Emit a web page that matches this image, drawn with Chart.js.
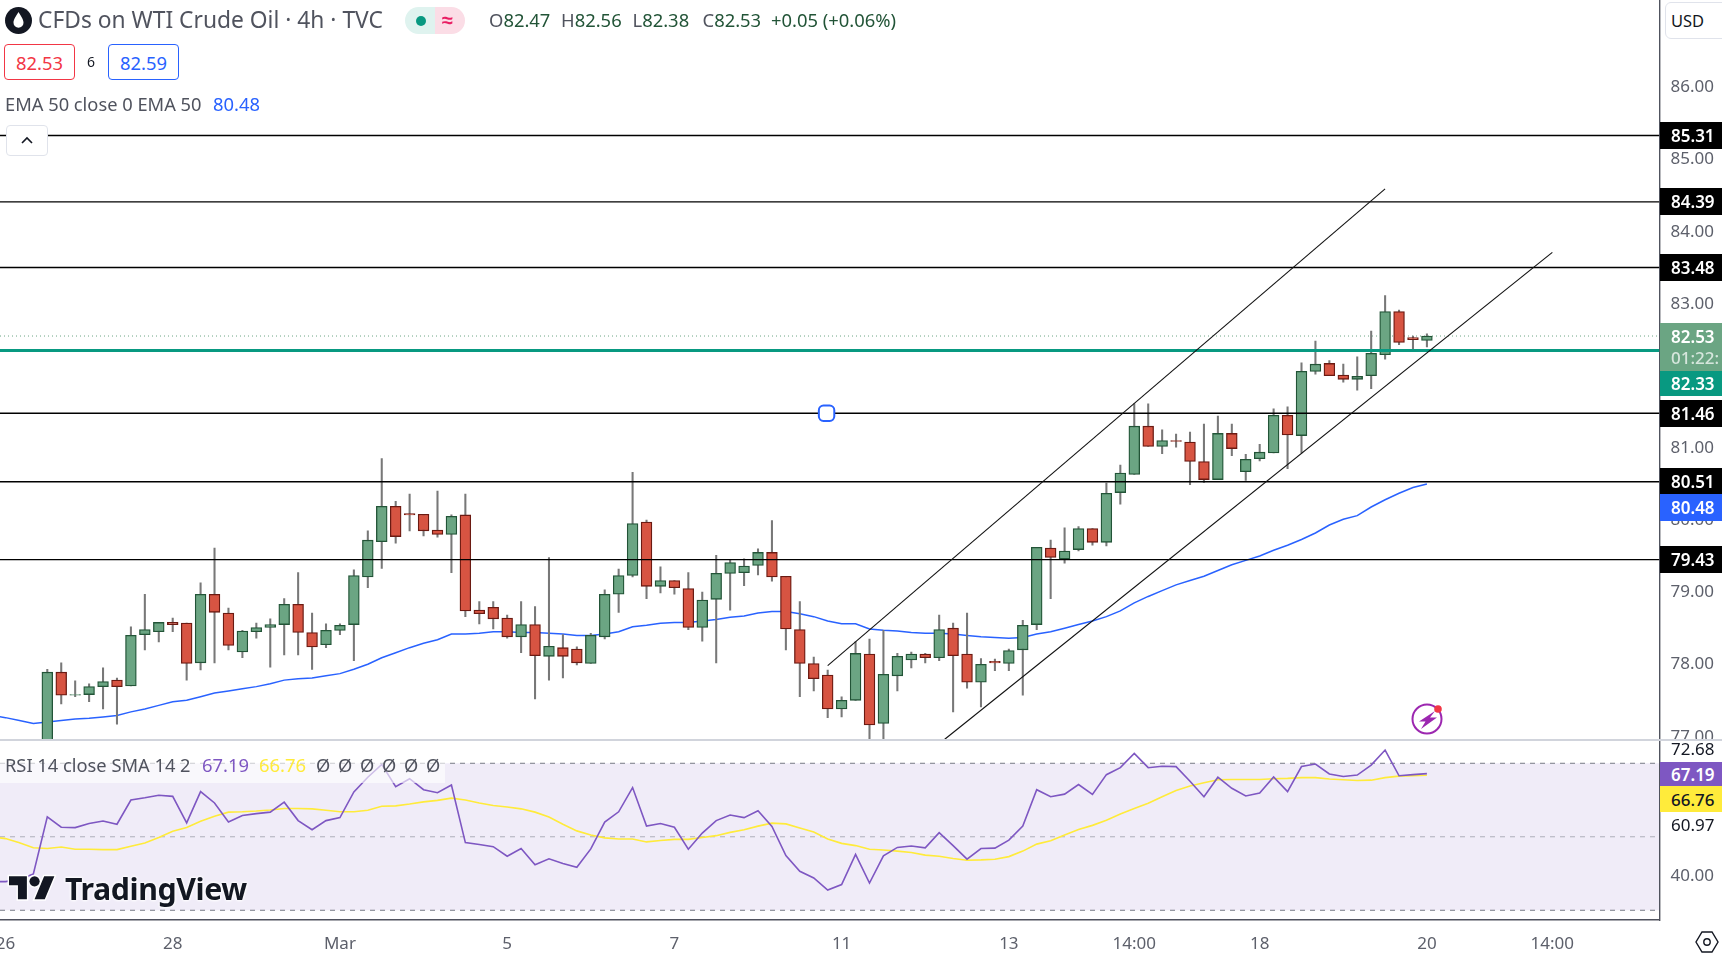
<!DOCTYPE html>
<html><head><meta charset="utf-8"><title>CFDs on WTI Crude Oil</title>
<script src="https://cdn.jsdelivr.net/npm/chart.js@4"></script>
<style>
html,body{margin:0;padding:0;background:#fff;width:1722px;height:955px;overflow:hidden;font-family:"Noto Sans",sans-serif;color:#131722}
canvas{position:absolute;left:0;display:block}
#main{top:0}
#rsi{top:741px}
#sep{position:absolute;left:0;top:739.3px;width:1722px;height:1.6px;background:#d1d4dc;z-index:3}
.t{position:absolute;white-space:nowrap;z-index:5;line-height:1}
.tag{position:absolute;left:1660px;width:62px;overflow:hidden;z-index:6;font-size:17px;font-weight:600;color:#fff;padding-left:11px;box-sizing:border-box;white-space:nowrap;display:flex;align-items:center}
.plain{position:absolute;left:1671px;z-index:6;font-size:17px;line-height:1;white-space:nowrap}
.box{position:absolute;box-sizing:border-box;z-index:5;background:#fff;border-radius:4px;display:flex;align-items:center;justify-content:center}
svg{position:absolute;z-index:6}
</style></head><body>
<canvas id="main" width="1722" height="740"></canvas>
<canvas id="rsi" width="1722" height="214"></canvas>
<div id="sep"></div>
<div id="ui"></div>
<script>
const opens=[76.70,77.87,77.55,77.56,77.67,77.76,77.68,78.39,78.43,78.56,78.55,78.00,78.95,78.69,78.15,78.43,78.49,78.53,78.81,78.42,78.25,78.45,78.53,79.19,79.68,80.17,80.07,80.06,79.84,79.78,80.05,78.73,78.77,78.62,78.36,78.53,78.09,78.21,78.19,77.99,78.36,78.95,79.21,79.95,79.06,79.14,79.03,78.49,78.88,79.24,79.25,79.35,79.53,79.20,78.46,77.99,77.83,77.36,77.48,78.12,77.16,77.82,78.04,78.12,78.07,78.48,78.12,77.73,78.02,77.99,78.18,78.53,79.59,79.44,79.57,79.86,79.67,80.36,80.61,81.28,81.00,81.08,81.06,80.79,80.54,81.18,80.65,80.83,80.91,81.43,81.15,82.04,82.15,81.99,81.93,81.98,82.27,82.87,82.51,82.47];
const closes=[77.87,77.55,77.56,77.67,77.74,77.67,78.38,78.46,78.56,78.53,77.99,78.95,78.70,78.24,78.44,78.49,78.53,78.81,78.42,78.22,78.45,78.52,79.21,79.70,80.17,79.75,80.05,79.83,79.78,80.03,78.72,78.68,78.61,78.36,78.53,78.10,78.23,78.09,78.00,78.38,78.95,79.21,79.93,79.06,79.14,79.04,78.49,78.87,79.24,79.39,79.34,79.53,79.19,78.47,77.99,77.78,77.36,77.48,78.13,77.14,77.84,78.09,78.12,78.07,78.46,78.10,77.73,77.98,78.00,78.17,78.52,79.60,79.46,79.55,79.86,79.67,80.35,80.63,81.28,81.00,81.08,81.07,80.79,80.54,81.18,80.97,80.82,80.92,81.43,81.16,82.04,82.14,81.98,81.93,81.97,82.29,82.87,82.44,82.48,82.53];
const highs=[77.91,78.00,77.75,77.71,77.93,77.79,78.50,78.95,78.56,78.62,78.55,79.11,79.59,78.76,78.45,78.55,78.61,78.89,79.25,78.69,78.54,78.54,79.29,79.83,80.83,80.24,80.34,80.06,80.38,80.05,80.34,78.85,78.85,78.66,78.85,78.78,79.46,78.39,78.22,78.41,79.01,79.30,80.64,79.98,79.33,79.14,79.25,78.98,79.49,79.42,79.44,79.58,79.97,79.20,78.85,78.08,77.90,77.53,78.29,78.33,78.45,78.13,78.15,78.13,78.66,78.55,78.69,78.06,78.05,78.19,78.59,79.60,79.70,79.87,79.89,79.86,80.49,80.74,81.59,81.59,81.23,81.17,81.20,81.31,81.42,81.31,80.89,81.03,81.52,81.55,82.16,82.46,82.19,82.14,82.24,82.60,83.09,82.89,82.53,82.56];
const lows=[76.60,77.43,77.53,77.46,77.36,77.15,77.68,78.18,78.29,78.43,77.76,77.90,78.00,78.18,78.07,78.34,77.94,78.11,78.11,77.91,78.21,78.39,78.03,79.04,79.31,79.66,79.83,79.76,79.74,79.25,78.64,78.54,78.47,78.34,78.14,77.50,77.76,77.79,77.97,77.99,78.33,78.70,79.19,78.89,78.97,78.95,78.46,78.30,78.00,78.73,79.07,79.22,79.13,78.18,77.53,77.61,77.24,77.25,77.48,76.80,76.80,77.61,77.93,78.00,78.03,77.32,77.65,77.39,77.89,77.89,77.55,78.46,78.89,79.38,79.55,79.63,79.62,80.20,80.61,81.00,80.90,80.99,80.47,80.50,80.54,80.87,80.53,80.80,80.91,80.69,80.91,82.00,81.98,81.89,81.78,81.80,82.21,82.41,82.35,82.38];
const emaValues=[77.27,77.24,77.20,77.16,77.18,77.20,77.22,77.23,77.25,77.27,77.32,77.36,77.41,77.46,77.48,77.53,77.58,77.61,77.64,77.67,77.71,77.76,77.78,77.79,77.82,77.85,77.91,77.98,78.07,78.14,78.21,78.27,78.32,78.40,78.40,78.41,78.43,78.43,78.42,78.42,78.41,78.40,78.38,78.38,78.40,78.43,78.50,78.52,78.55,78.56,78.56,78.58,78.60,78.63,78.65,78.69,78.71,78.71,78.68,78.64,78.58,78.54,78.54,78.47,78.45,78.44,78.42,78.41,78.41,78.40,78.38,78.36,78.35,78.34,78.35,78.40,78.43,78.48,78.53,78.58,78.64,78.72,78.83,78.92,79.00,79.08,79.14,79.20,79.28,79.36,79.42,79.48,79.56,79.63,79.71,79.80,79.91,79.99,80.04,80.16,80.26,80.35,80.43,80.48];
const rsiValues=[37.8,37.8,38.4,39.9,55.4,52.6,52.5,53.6,54.3,53.4,60.0,60.6,61.3,61.0,53.8,62.3,59.2,54.0,55.8,56.3,56.7,59.4,54.4,51.9,54.4,55.2,62.2,66.2,69.7,63.6,65.8,62.8,62.0,64.1,48.4,47.9,47.3,44.7,46.8,42.4,44.0,42.7,41.7,46.7,54.0,56.8,63.4,52.9,53.6,52.6,46.6,51.0,54.4,55.9,55.2,57.1,52.8,44.9,40.6,38.8,35.5,37.0,45.2,37.4,44.8,47.1,47.5,47.0,51.1,47.6,43.9,46.8,46.9,49.1,52.9,62.8,60.9,61.6,64.2,61.5,66.9,68.8,72.7,68.8,69.2,69.1,65.1,60.9,66.2,63.2,61.1,61.9,66.3,62.3,69.1,69.8,67.1,66.4,66.8,69.5,73.6,66.6,66.9,67.19];
const rsiMaValues=[50.0,49.5,48.4,47.0,46.8,47.2,46.6,46.6,46.5,46.5,47.4,48.3,49.8,51.5,52.5,54.2,55.6,56.7,56.8,57.0,57.3,57.7,57.7,57.6,57.2,56.8,56.8,57.2,58.3,58.4,58.9,59.5,59.9,60.5,60.0,59.2,58.5,58.1,57.6,56.7,55.4,53.4,51.6,50.5,49.7,49.4,49.4,48.6,49.0,49.3,49.3,49.8,50.3,51.2,51.9,52.9,53.7,53.5,52.4,51.3,49.4,48.2,47.6,46.6,46.4,46.1,45.7,45.0,44.7,44.1,43.6,43.7,43.9,44.6,46.1,48.0,48.9,50.5,52.0,53.1,54.5,56.2,57.7,59.1,60.9,62.6,63.8,64.7,65.5,65.6,65.6,65.6,65.8,65.9,66.1,66.1,65.7,65.5,65.3,65.4,66.1,66.5,66.6,66.76];
const lineStartIndex=-4;
const levels=[85.31,84.39,83.48,81.46,80.51,79.43];
const positionLevel=82.33;
const lastPrice=82.53;
const channelUpperX=[56,96];
const channelUpperY=[77.96,84.57];
const channelLowerX=[64.4,108];
const channelLowerY=[76.94,83.69];
const handleX=[55.92];
const handleY=[81.46];
const priceTicks=[77,78,79,80,81,83,84,85,86];
const rsiBands=[70,50,30];
const rsiTicks=[40];
const timeTickIndex=[-3,9,21,33,45,57,69,78,87,99,108];
const timeTickLabels=['26','28','Mar','5','7','11','13','14:00','18','20','14:00'];

const FONT='"Noto Sans", sans-serif';
Chart.defaults.font.family=FONT;
const XMIN=-3.394, XMAX=115.69;
const AXIS='#50535e', TICK='#5d606b';
const UP='#6ba583',UPB='#225437',DN='#d75442',DNB='#6b1a12';
const idx=opens.map((_,i)=>i);
const seg=(xs,ys)=>xs.map((x,i)=>({x,y:ys[i]}));
const hline=(v,color,w,dash,order)=>({type:'line',data:seg([XMIN,XMAX],[v,v]),borderColor:color,borderWidth:w,borderDash:dash||[],pointRadius:0,order:order,tension:0});
const series=(vals)=>vals.map((y,k)=>({x:k+lineStartIndex,y}));
const baseOpts={responsive:false,animation:false,devicePixelRatio:1,
  layout:{padding:0,autoPadding:false},plugins:{legend:{display:false},tooltip:{enabled:false},title:{display:false}}};
const noPad=s=>{s.paddingLeft=s.paddingRight=s.paddingTop=s.paddingBottom=0};
const fixW=s=>{s.width=62.5;noPad(s)};
const fixH=s=>{s.height=35;noPad(s)};

const price=new Chart(document.getElementById('main'),{
 type:'bar',
 data:{datasets:[
  hline(lastPrice,'#6ba583',1,[1,3],7),
  ...levels.map(v=>hline(v,'#000000',1.4,[],2)),
  hline(positionLevel,'#089981',3,[],2),
  {type:'line',data:series(emaValues),borderColor:'#2962ff',borderWidth:1.5,pointRadius:0,order:6,tension:0},
  {type:'bar',data:idx.map(i=>({x:i,y:[lows[i],highs[i]]})),backgroundColor:'#787878',borderWidth:0,barThickness:1.4,grouped:false,order:5},
  {type:'bar',data:idx.map(i=>({x:i,y:[opens[i],closes[i]]})),
    backgroundColor:idx.map(i=>closes[i]>=opens[i]?UP:DN),
    borderColor:idx.map(i=>closes[i]>=opens[i]?UPB:DNB),
    borderWidth:1.3,borderSkipped:false,barThickness:10.8,grouped:false,order:4},
  {type:'line',data:seg(channelUpperX,channelUpperY),borderColor:'#111',borderWidth:1.1,pointRadius:0,order:1,tension:0},
  {type:'line',data:seg(channelLowerX,channelLowerY),borderColor:'#111',borderWidth:1.1,pointRadius:0,order:1,tension:0},
  {type:'line',data:seg(handleX,handleY),showLine:false,pointStyle:'rectRounded',pointRadius:9,pointBackgroundColor:'#fff',pointBorderColor:'#2962ff',pointBorderWidth:2,order:0}
 ]},
 options:{...baseOpts,
  scales:{
   x:{type:'linear',display:false,min:XMIN,max:XMAX,offset:false},
   y:{type:'linear',position:'right',min:76.93,max:87.188,beginAtZero:false,afterFit:fixW,
      grid:{display:false,drawTicks:false},border:{display:true,color:AXIS,width:1.4},
      afterBuildTicks:s=>{s.ticks=priceTicks.map(value=>({value}))},
      ticks:{padding:11,labelOffset:1.8,color:TICK,font:{size:17},callback:v=>Number(v).toFixed(2),autoSkip:false}}
  }}
});

const rsi=new Chart(document.getElementById('rsi'),{
 type:'line',
 data:{datasets:[
  {data:seg([XMIN,XMAX],[rsiBands[0],rsiBands[0]]),borderColor:'#787b86',borderWidth:1,borderDash:[5,5],pointRadius:0,fill:{value:rsiBands[2]},backgroundColor:'rgba(126,87,194,0.115)',order:5},
  {data:seg([XMIN,XMAX],[rsiBands[1],rsiBands[1]]),borderColor:'rgba(120,123,134,0.55)',borderWidth:1,borderDash:[5,5],pointRadius:0,order:4},
  {data:seg([XMIN,XMAX],[rsiBands[2],rsiBands[2]]),borderColor:'#787b86',borderWidth:1,borderDash:[5,5],pointRadius:0,order:4},
  {data:series(rsiMaValues),borderColor:'#ffeb3b',borderWidth:1.6,pointRadius:0,tension:0,order:2},
  {data:series(rsiValues),borderColor:'#7e57c2',borderWidth:1.6,pointRadius:0,tension:0,order:1}
 ]},
 options:{...baseOpts,
  scales:{
   x:{type:'linear',min:XMIN,max:XMAX,offset:false,afterFit:fixH,
      grid:{display:false,drawTicks:false},border:{display:true,color:AXIS,width:1.4},
      afterBuildTicks:s=>{s.ticks=timeTickIndex.map(value=>({value}))},
      ticks:{autoSkip:false,maxRotation:0,minRotation:0,padding:13.5,color:TICK,font:{size:17},
        callback:v=>{const k=timeTickIndex.indexOf(v);return k<0?'':timeTickLabels[k]}}},
   y:{type:'linear',position:'right',min:27.35,max:76.06,beginAtZero:false,afterFit:fixW,
      grid:{display:false,drawTicks:false},border:{display:true,color:AXIS,width:1.4},
      afterBuildTicks:s=>{s.ticks=rsiTicks.map(value=>({value}))},
      ticks:{padding:11,labelOffset:2.2,color:TICK,font:{size:17},callback:v=>Number(v).toFixed(2),autoSkip:false}}
  }}
});

const ui=document.getElementById('ui');
function add(html){ui.insertAdjacentHTML('beforeend',html)}
function text(x,cy,s,size,color,extra){add(`<div class="t" style="left:${x}px;top:${cy}px;transform:translateY(-50%);font-size:${size}px;color:${color};${extra||''}">${s}</div>`)}
function tag(top,h,bg,inner,extra){add(`<div class="tag" style="top:${top}px;height:${h}px;background:${bg};${extra||''}">${inner}</div>`)}

// header
add(`<svg style="left:5px;top:7px" width="27" height="27" viewBox="0 0 27 27"><circle cx="13.5" cy="13.5" r="13.5" fill="#131722"/><path d="M13.5 5C10.5 10 8.5 12.6 8.5 15.8a5 5 0 0 0 10 0C18.5 12.6 16.5 10 13.5 5z" fill="#fff"/></svg>`);
text(38,20,'CFDs on WTI Crude Oil · 4h · TVC',22.8,'#50535e');
add(`<div style="position:absolute;left:405px;top:7px;width:30px;height:27px;background:#dff3ef;border-radius:14px 0 0 14px;z-index:5"></div><div style="position:absolute;left:435px;top:7px;width:30px;height:27px;background:#fbdde6;border-radius:0 14px 14px 0;z-index:5"></div>`);
add(`<div style="position:absolute;left:416px;top:15.5px;width:10px;height:10px;background:#089981;border-radius:50%;z-index:6"></div>`);
text(442,20,'≈',20,'#e91e63','z-index:6;font-weight:700;');
const G='#225437',L='#50535e';
[['O',489],['H',561],['L',632.5],['C',702.5]].forEach((p,k)=>{
  const v=['82.47','82.56','82.38','82.53'][k];
  text(p[1],20,`<span style="color:${L}">${p[0]}</span><span style="color:${G}">${v}</span>`,18.4,G);
});
text(771,20,'+0.05 (+0.06%)',18.4,G);
add(`<div class="box" style="left:4px;top:44px;width:71px;height:36px;border:1px solid #f23645;color:#f23645;font-size:18.4px">82.53</div>`);
text(87,62,'6',14,'#131722');
add(`<div class="box" style="left:108px;top:44px;width:71px;height:36px;border:1px solid #2962ff;color:#2962ff;font-size:18.4px">82.59</div>`);
text(5,103.5,'EMA 50 close 0 EMA 50',18.3,'#50535e');
text(213,103.5,'80.48',18.4,'#2962ff');
add(`<div class="box" style="left:6px;top:125px;width:42px;height:31px;border:1px solid #e0e3eb"><svg style="position:static" width="14" height="9" viewBox="0 0 14 9"><path d="M2 7l5-5 5 5" fill="none" stroke="#131722" stroke-width="1.6"/></svg></div>`);
add(`<div class="box" style="left:1665px;top:2px;width:70px;height:37px;border:1px solid #e0e3eb;justify-content:flex-start;padding-left:5px;font-size:16.5px;color:#131722;border-radius:6px">USD</div>`);

// price tags
const ys=price.scales.y;
levels.forEach(v=>{const c=ys.getPixelForValue(v);tag(c-13.5,27,'#000',v.toFixed(2))});
tag(323,48,'#6ba583',`<div><div style="line-height:21px;margin-top:-1px">${lastPrice.toFixed(2)}</div><div style="line-height:21px;color:rgba(255,255,255,.72);font-weight:500">01:22:</div></div>`);
tag(371,25,'#089981',positionLevel.toFixed(2));
tag(494,27,'#2962ff','80.48');

// rsi labels
tag(762,24,'#7e57c2','67.19');
tag(786,26,'#ffeb3b','66.76','color:#131722;font-weight:500;');
add(`<div class="plain" style="top:739.5px;color:#131722">72.68</div>`);
add(`<div class="plain" style="top:816px;color:#131722">60.97</div>`);

// rsi legend
add(`<div style="position:absolute;left:0;top:754px;width:445px;height:29px;background:rgba(255,255,255,.62);z-index:4"></div>`);
text(5,765,'RSI 14 close SMA 14 2',18.3,'#50535e');
text(202,765,'67.19',18.4,'#7e57c2');
text(259,765,'66.76',18.4,'#ffeb3b');
[322,344,366,388,410,432].forEach(x=>text(x-6,765,'Ø',18.3,'#50535e'));

// TradingView logo
add(`<svg style="left:9px;top:871px;overflow:visible" width="46" height="36" viewBox="0 0 36 28"><g fill="#131722" stroke="#fff" stroke-width="2.2" paint-order="stroke"><path d="M14 22H7V11H0V4h14v18zM28 22h-8l7.5-18h8L28 22z"/><circle cx="20" cy="8" r="4"/></g></svg>`);
text(65,889,'TradingView',30.3,'#131722','font-weight:700;letter-spacing:-.4px;text-shadow:0 0 3px #fff,0 0 3px #fff,0 0 3px #fff;');

// lightning icon
add(`<svg style="left:1410px;top:702px" width="36" height="36" viewBox="0 0 36 36"><circle cx="17" cy="17" r="14.5" fill="#fff" stroke="#9c27b0" stroke-width="2"/><path d="M25 9L9 19.5h6.5L11 27l16-11.5h-7z" fill="#9c27b0"/><circle cx="28" cy="7" r="3.8" fill="#f23645"/></svg>`);
// settings icon
add(`<svg style="left:1695px;top:930px" width="24" height="24" viewBox="0 0 24 24"><path d="M7 2h10l6 10-6 10H7L1 12z" fill="none" stroke="#131722" stroke-width="1.4"/><circle cx="12" cy="12" r="3.2" fill="none" stroke="#131722" stroke-width="1.4"/></svg>`);
</script>
</body></html>
